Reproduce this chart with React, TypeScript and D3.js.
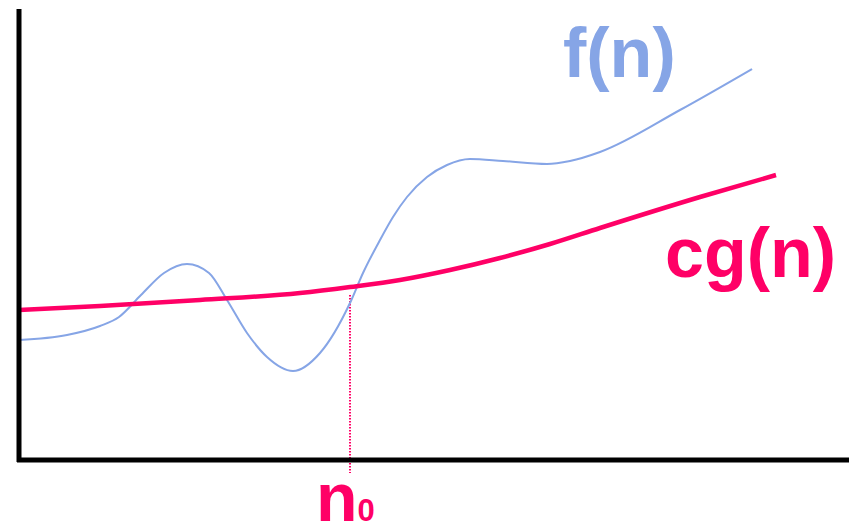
import React from "react";
import * as d3 from "d3";

// chart units: x = distance right of the y-axis, y = height above the x-axis
const fX = [0, 48, 81, 100, 122, 145, 168, 190, 208, 228, 248, 274, 301, 331, 344, 361, 374, 388, 408, 428, 451, 484, 528, 551, 581, 661, 733];
const fY = [120, 125, 134, 143, 165, 187, 196, 187, 160, 127, 103, 89, 107, 157, 187, 220, 243, 263, 283, 295, 301, 299, 296, 299, 308, 350, 391];
const gX = [0, 81, 181, 281, 331, 381, 431, 481, 531, 581, 681, 757];
const gY = [150, 154, 160, 167, 173, 180, 190, 202, 216, 232, 263, 285];
const n0 = 331;
const n0Top = 165;
const labels = { f: "f(n)", g: "cg(n)", n: "n", sub: "0" };

const W = 852;
const H = 528;
const BLUE = "#86a5e6";
const PINK = "#ff0066";

export default function App() {
  const x = d3.scaleLinear().domain([0, 830]).range([19, 849]);
  const y = d3.scaleLinear().domain([0, 451]).range([460, 9]);
  const line = d3
    .line<[number, number]>()
    .x((d) => x(d[0]))
    .y((d) => y(d[1]))
    .curve(d3.curveMonotoneX);
  const fPts = fX.map((v, i) => [v, fY[i]] as [number, number]);
  const gPts = gX.map((v, i) => [v, gY[i]] as [number, number]);
  const font = "'Liberation Sans', Arial, Helvetica, sans-serif";
  return (
    <svg
      width={W}
      height={H}
      style={{ position: "absolute", left: 0, top: 0, background: "#fff" }}
    >
      <line
        x1={x(n0)}
        x2={x(n0)}
        y1={y(n0Top)}
        y2={y(-13)}
        stroke={PINK}
        strokeWidth={2}
        strokeDasharray="1.5,1.5"
      />
      <path d={line(fPts) || ""} fill="none" stroke={BLUE} strokeWidth={2} />
      <path d={line(gPts) || ""} fill="none" stroke={PINK} strokeWidth={4.5} />
      <line x1={x(0)} x2={x(0)} y1={y(451)} y2={y(-2)} stroke="#000" strokeWidth={5} />
      <line x1={x(-2)} x2={x(830)} y1={y(0)} y2={y(0)} stroke="#000" strokeWidth={5} />
      <text x={563} y={77} fontFamily={font} fontWeight="bold" fontSize={70} fill={BLUE}>
        {labels.f}
      </text>
      <text x={665} y={277} fontFamily={font} fontWeight="bold" fontSize={70} fill={PINK}>
        {labels.g}
      </text>
      <text x={316} y={521} fontFamily={font} fontWeight="bold" fontSize={68} fill={PINK}>
        {labels.n}
        <tspan fontSize={31}>{labels.sub}</tspan>
      </text>
    </svg>
  );
}
